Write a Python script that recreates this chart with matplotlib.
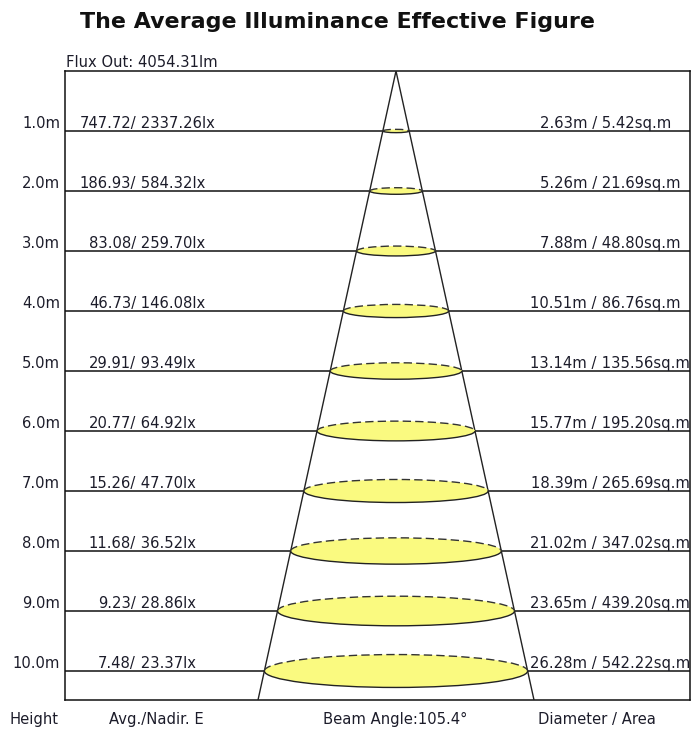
import matplotlib
matplotlib.use("Agg")
import matplotlib.pyplot as plt
from matplotlib.patches import Ellipse, Arc

heights = [1, 2, 3, 4, 5, 6, 7, 8, 9, 10]
height_labels = ["1.0m", "2.0m", "3.0m", "4.0m", "5.0m", "6.0m", "7.0m", "8.0m", "9.0m", "10.0m"]
avg_e = ["747.72", "186.93", "83.08", "46.73", "29.91", "20.77", "15.26", "11.68", "9.23", "7.48"]
nadir_e = ["2337.26", "584.32", "259.70", "146.08", "93.49", "64.92", "47.70", "36.52", "28.86", "23.37"]
diameters = ["2.63", "5.26", "7.88", "10.51", "13.14", "15.77", "18.39", "21.02", "23.65", "26.28"]
areas = ["5.42", "21.69", "48.80", "86.76", "135.56", "195.20", "265.69", "347.02", "439.20", "542.22"]
flux_out = "4054.31"
beam_angle = "105.4"

W, H = 696, 729
fig = plt.figure(figsize=(W / 100, H / 100), dpi=100)
fig.patch.set_facecolor("white")

# box in pixels: x 65..690, y 71..700 ; 60 px per metre of height
bx0, bx1, by0, by1 = 65, 690, 71, 700
apex_x = 396
unit = 60.0
ax = fig.add_axes([bx0 / W, (H - by1) / H, (bx1 - bx0) / W, (by1 - by0) / H])
ax.set_xlim((bx0 - apex_x) / unit, (bx1 - apex_x) / unit)
ax.set_ylim((by1 - by0) / unit, 0)
ax.set_xticks([])
ax.set_yticks([])
for s in ax.spines.values():
    s.set_linewidth(1.1)
    s.set_color("#111111")

ymax = (by1 - by0) / unit
spread = 138 / 629  # half-width per unit depth
txt_color = "#1c1c2a"
fs = 10.6

# cone
ax.plot([-spread * ymax, 0, spread * ymax], [ymax, 0, ymax], color="#222222", lw=1.0, zorder=3)

xl0, xl1 = ax.get_xlim()
for h, hl, a, n, d, ar in zip(heights, height_labels, avg_e, nadir_e, diameters, areas):
    ax.plot([xl0, xl1], [h, h], color="#111111", lw=1.1, zorder=1)
    w = 2 * spread * h
    eh = 0.125 * w
    ax.add_patch(Ellipse((0, h), w, eh, facecolor="#FAFA80", edgecolor="none", zorder=4))
    ax.add_patch(Arc((0, h), w, eh, theta1=180, theta2=360, color="#333333", lw=1.0,
                     linestyle=(0, (6, 3)), zorder=5))
    ax.add_patch(Arc((0, h), w, eh, theta1=0, theta2=180, color="#222222", lw=1.0, zorder=5))
    yb = h - 0.05
    ax.text((60 - apex_x) / unit, yb, hl, ha="right", va="baseline", fontsize=fs,
            color=txt_color, clip_on=False)
    ax.text((136 - apex_x) / unit, yb, a + "/", ha="right", va="baseline", fontsize=fs,
            color=txt_color)
    ax.text((136 - apex_x) / unit, yb, " " + n + "lx", ha="left", va="baseline", fontsize=fs,
            color=txt_color)
    ax.text((597 - apex_x) / unit, yb, d + "m /", ha="right", va="baseline", fontsize=fs,
            color=txt_color, clip_on=True)
    ax.text((597 - apex_x) / unit, yb, " " + ar + "sq.m", ha="left", va="baseline", fontsize=fs,
            color=txt_color, clip_on=True)

# bottom captions
yc = (719 - by0) / unit
for xp, s in [(34, "Height"), (156, "Avg./Nadir. E"), (395, "Beam Angle:" + beam_angle + "°"),
              (597, "Diameter / Area")]:
    ax.text((xp - apex_x) / unit, yc, s, ha="center", va="center", fontsize=fs,
            color=txt_color, clip_on=False)

fig.text(66 / W, 1 - 67 / H, "Flux Out: " + flux_out + "lm", ha="left", va="baseline",
         fontsize=fs, color=txt_color)
fig.text(337 / W, 1 - 22 / H, "The Average Illuminance Effective Figure", ha="center",
         va="center", fontsize=15.9, fontweight="bold", color="#111111")

fig.savefig("out.png", dpi=100, facecolor="white")
